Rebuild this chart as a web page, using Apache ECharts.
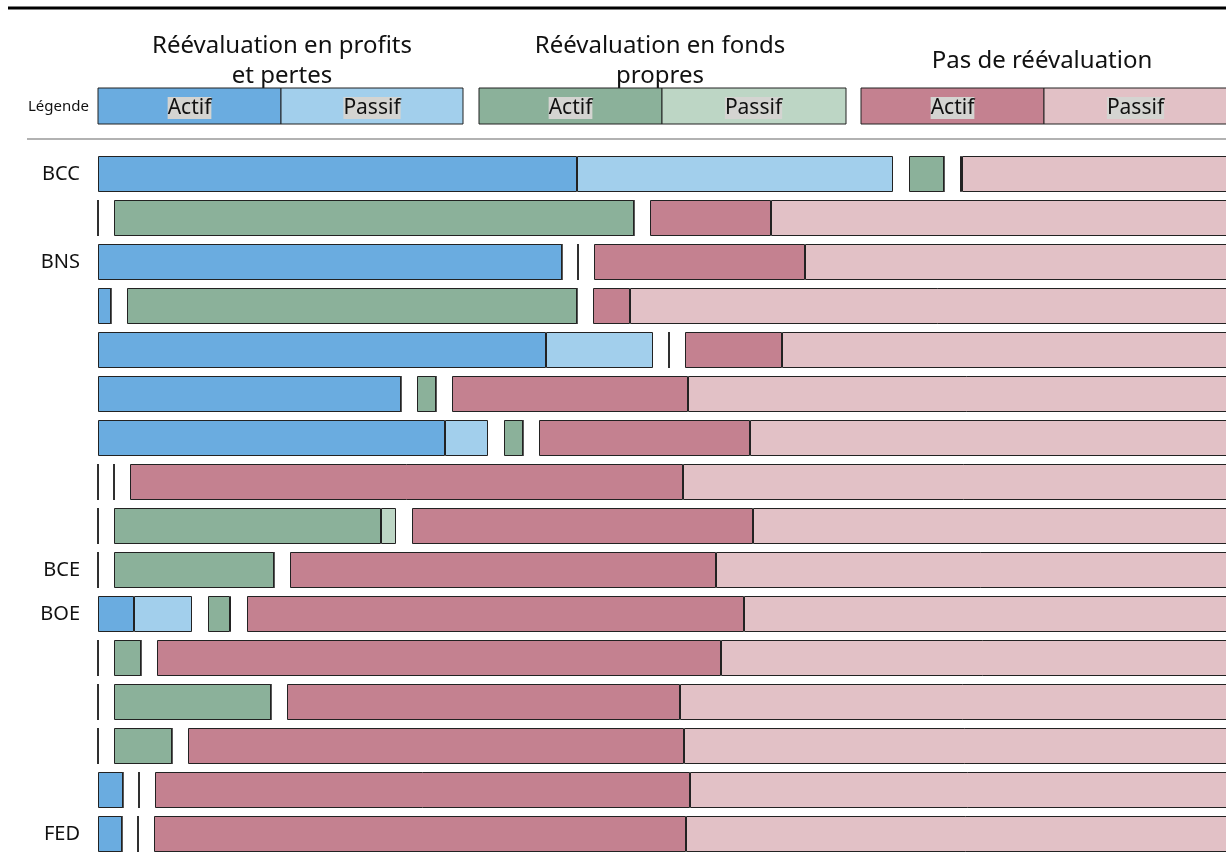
<!DOCTYPE html>
<html>
<head>
<meta charset="utf-8">
<script src="https://cdn.jsdelivr.net/npm/echarts@6/dist/echarts.min.js"></script>
<style>
	html, body { margin: 0; padding: 0; background: #fff; overflow: hidden; }
	/* plus large que la fenêtre : les barres sont coupées par le bord droit */
	#main { width: 1244px; height: 866px; }
</style>
</head>
<body>
<div id="main"></div>
<script>
// Données (longueurs en unités d'axe, 1 unité ~ 1 px)
var banques = ['BCC', '', 'BNS', '', '', '', '', '', '', 'BCE', 'BOE', '', '', '', '', 'FED'];

// Réévaluation en profits et pertes
var plActif  = [479, 0, 464, 13, 448, 303, 347, 0, 0, 0, 36, 0, 0, 0, 25, 24];
var plPassif = [316, 0, 0, 0, 107, 0, 43, 0, 0, 0, 58, 0, 0, 0, 0, 0];
// Réévaluation en fonds propres
var eqActif  = [35, 520, 0, 450, 0, 19, 19, 0, 267, 160, 22, 27, 157, 58, 0, 0];
var eqPassif = [0, 0, 0, 0, 0, 0, 0, 0, 15, 0, 1, 0, 0, 0, 0, 0];
// Pas de réévaluation (le passif dépasse le bord droit de l'image)
var nrActif  = [2, 121, 211, 37, 97, 236, 211, 553, 341, 426, 497, 564, 393, 496, 535, 532];
var nrPassif = [320, 500, 460, 640, 490, 580, 520, 600, 520, 560, 520, 560, 600, 580, 580, 580];

// espace blanc entre les trois groupes
var GAP = 16;

var couleurs = {
	plA: '#6aace0', plP: '#a2cfec',
	eqA: '#8bb19a', eqP: '#bdd6c5',
	nrA: '#c48190', nrP: '#e2c1c6'
};

var police = 'Noto Sans';

function serie(name, data, color) {
	return {
		name: name,
		type: 'bar',
		stack: 'total',
		barWidth: 36,
		data: data,
		silent: true,
		itemStyle: { color: color, borderColor: '#222', borderWidth: 1 }
	};
}

function espace(name) {
	return {
		name: name,
		type: 'bar',
		stack: 'total',
		barWidth: 36,
		silent: true,
		data: banques.map(function() { return GAP; }),
		itemStyle: { color: 'rgba(0,0,0,0)', borderWidth: 0 }
	};
}

// Légende dessinée à la main (trois boîtes Actif / Passif)
function boiteLegende(x, mid, w, cA, cP) {
	var y = 88, h = 36;
	var els = [
		{ type: 'rect', shape: { x: x, y: y, width: mid - x, height: h },
			style: { fill: cA, stroke: '#222', lineWidth: 1 } },
		{ type: 'rect', shape: { x: mid, y: y, width: x + w - mid, height: h },
			style: { fill: cP, stroke: '#222', lineWidth: 1 } }
	];
	var milieuP = Math.min((mid + x + w) / 2, mid + 183 / 2);
	[['Actif', (x + mid) / 2], ['Passif', milieuP]].forEach(function(t) {
		els.push({
			type: 'text', x: t[1], y: 108,
			style: {
				text: t[0], fontFamily: police, fontSize: 21, fill: '#111',
				align: 'center', verticalAlign: 'middle',
				backgroundColor: '#d4d4d1', padding: [1, 0, 0, 0]
			}
		});
	});
	return els;
}

function titre(text, x, y) {
	return {
		type: 'text', x: x, y: y,
		style: {
			text: text, fontFamily: police, fontSize: 24, fill: '#111',
			align: 'center', verticalAlign: 'middle', lineHeight: 30
		}
	};
}

var graphiques = [
	{ type: 'line', shape: { x1: 8, y1: 8, x2: 1244, y2: 8 }, style: { stroke: '#000', lineWidth: 3 } },
	{ type: 'line', shape: { x1: 27, y1: 139, x2: 1244, y2: 139 }, style: { stroke: '#999', lineWidth: 1.5 } },
	titre('Réévaluation en profits\net pertes', 282, 61),
	titre('Réévaluation en fonds\npropres', 660, 61),
	titre('Pas de réévaluation', 1042, 61),
	{ type: 'text', x: 28, y: 107,
		style: { text: 'Légende', fontFamily: police, fontSize: 15, fill: '#111', verticalAlign: 'middle' } }
];
graphiques = graphiques
	.concat(boiteLegende(98, 281, 365, couleurs.plA, couleurs.plP))
	.concat(boiteLegende(479, 662, 367, couleurs.eqA, couleurs.eqP))
	.concat(boiteLegende(861, 1044, 420, couleurs.nrA, couleurs.nrP));

var myChart = echarts.init(document.getElementById('main'));

var option = {
	animation: false,
	backgroundColor: '#fff',
	grid: { left: 98, right: 0, top: 152, bottom: 10 },
	xAxis: {
		type: 'value', min: 0, max: 1146, show: false
	},
	yAxis: {
		type: 'category',
		inverse: true,
		data: banques,
		axisLine: { show: false },
		axisTick: { show: false },
		axisLabel: { fontFamily: police, fontSize: 20, color: '#111', margin: 18 }
	},
	graphic: graphiques,
	series: [
		serie('PP Actif', plActif, couleurs.plA),
		serie('PP Passif', plPassif, couleurs.plP),
		espace('gap1'),
		serie('FP Actif', eqActif, couleurs.eqA),
		serie('FP Passif', eqPassif, couleurs.eqP),
		espace('gap2'),
		serie('NR Actif', nrActif, couleurs.nrA),
		serie('NR Passif', nrPassif, couleurs.nrP)
	]
};

myChart.setOption(option);
</script>
</body>
</html>
